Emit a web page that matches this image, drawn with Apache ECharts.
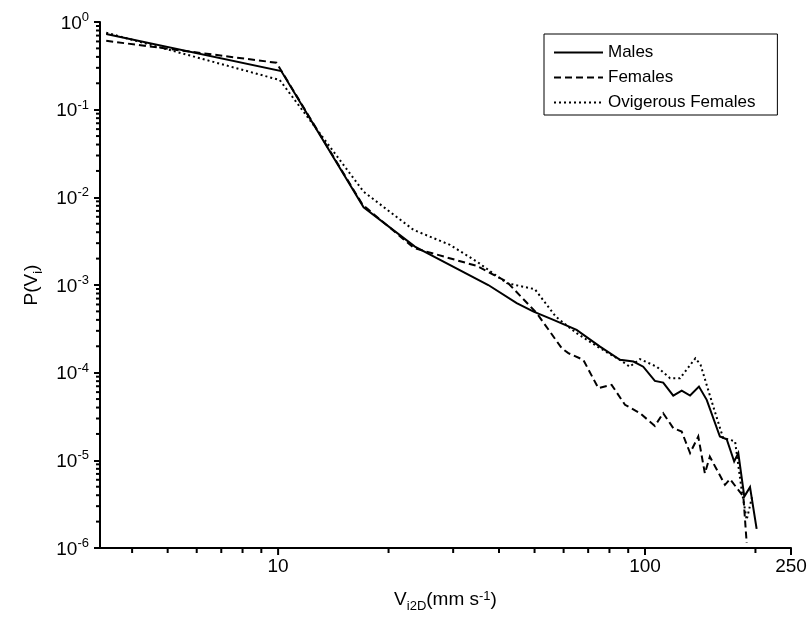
<!DOCTYPE html>
<html><head><meta charset="utf-8">
<script src="https://cdn.jsdelivr.net/npm/echarts@6/dist/echarts.min.js"></script>
<style>html,body{margin:0;padding:0;background:#fff}#c{width:810px;height:628px}</style>
</head><body><div id="c"></div>
<script>
// ---- data ----
const seriesNames = ['Males', 'Females', 'Ovigerous Females'];

const malesX = [3.4, 10.2, 17.1, 23.6, 37.4, 44.7, 49.7, 56.3, 65.1, 75.4, 85.5, 93.0, 98.9, 106.4, 112.1, 119.4, 125.9, 132.7, 140.3, 147.3, 160.0, 167.0, 175.0, 179.6, 186.5, 193.3, 201.5];
const malesY = [0.73, 0.276, 7.7e-3, 2.74e-3, 1.0e-3, 6.2e-4, 4.97e-4, 4.0e-4, 3.08e-4, 1.98e-4, 1.40e-4, 1.34e-4, 1.17e-4, 8.06e-5, 7.7e-5, 5.48e-5, 6.25e-5, 5.48e-5, 6.94e-5, 4.9e-5, 1.87e-5, 1.74e-5, 9.7e-6, 1.21e-5, 3.86e-6, 4.94e-6, 1.65e-6];

const femalesX = [3.4, 9.9, 17.0, 23.5, 34.8, 42.0, 50.7, 59.3, 61.8, 67.9, 74.6, 81.1, 88.2, 96.9, 106.4, 112.1, 119.4, 125.9, 132.7, 139.7, 145.6, 150.2, 165.2, 170.5, 185.4, 189.3];
const femalesY = [0.61, 0.343, 8.2e-3, 2.63e-3, 1.65e-3, 1.09e-3, 4.77e-4, 1.90e-4, 1.67e-4, 1.40e-4, 6.66e-5, 7.26e-5, 4.3e-5, 3.45e-5, 2.47e-5, 3.45e-5, 2.33e-5, 2.13e-5, 1.21e-5, 1.87e-5, 7.1e-6, 1.1e-5, 5.26e-6, 6.1e-6, 3.86e-6, 1.14e-6];

const ovigX = [3.4, 10.1, 17.1, 23.4, 29.4, 34.8, 42.0, 50.1, 57.1, 65.1, 75.4, 85.5, 90.8, 96.9, 107.6, 117.0, 124.6, 137.2, 141.7, 153.5, 163.3, 176.0, 183.4, 189.3, 195.7];
const ovigY = [0.755, 0.218, 1.16e-2, 4.25e-3, 2.87e-3, 1.85e-3, 1.05e-3, 8.95e-4, 4.36e-4, 2.82e-4, 1.90e-4, 1.40e-4, 1.17e-4, 1.43e-4, 1.17e-4, 8.65e-5, 8.65e-5, 1.46e-4, 1.23e-4, 4.1e-5, 1.8e-5, 1.65e-5, 4.6e-6, 2.1e-6, 3.8e-6];

const xTickValues = [10, 100, 250];
const xTickLabels = ['10', '100', '250'];
const yTickExponents = [0, -1, -2, -3, -4, -5, -6];
const xMin = 3.27, xMax = 250, yMin = 1e-6, yMax = 1;

// ---- chart ----
const FONT = 'Liberation Sans, Arial, Helvetica, sans-serif';
const zip = (xs, ys) => xs.map((x, i) => [x, ys[i]]);
const chart = echarts.init(document.getElementById('c'), null, {renderer: 'canvas'});

const lineTypes = ['solid', [7, 4], [2, 3]];
const seriesData = [zip(malesX, malesY), zip(femalesX, femalesY), zip(ovigX, ovigY)];

const titleRich = {
  b: {fontFamily: FONT, fontSize: 19, lineHeight: 19, verticalAlign: 'top', color: '#000'},
  sub: {fontFamily: FONT, fontSize: 13, lineHeight: 13, verticalAlign: 'top', padding: [10, 0, 0, 0], color: '#000'},
  sup: {fontFamily: FONT, fontSize: 13, lineHeight: 13, verticalAlign: 'top', color: '#000'}
};

const option = {
  animation: false,
  backgroundColor: '#fff',
  textStyle: {fontFamily: FONT, color: '#000'},
  grid: {left: 100, right: 19, top: 22, bottom: 80, containLabel: false, outerBoundsMode: 'none'},
  legend: {
    orient: 'vertical', left: 544, top: 34,
    itemWidth: 49, itemHeight: 20, itemGap: 8,
    padding: [10, 22, 4, 9],
    borderColor: '#000', borderWidth: 1,
    itemStyle: {opacity: 0, color: 'transparent', borderWidth: 0},
    textStyle: {fontFamily: FONT, fontSize: 17, color: '#000'},
    data: seriesNames
  },
  xAxis: {
    type: 'log', logBase: 10, min: xMin, max: xMax,
    axisLine: {lineStyle: {color: '#000', width: 2}},
    axisTick: {show: false},
    splitLine: {show: false},
    axisLabel: {
      show: true, showMinLabel: true, showMaxLabel: true, margin: 9,
      fontFamily: FONT, fontSize: 19, color: '#000',
      formatter: function (v) {
        for (let i = 0; i < xTickValues.length; i++) {
          if (Math.abs(v - xTickValues[i]) < 0.5) return xTickLabels[i];
        }
        return '';
      }
    },
    name: '{b|V}{sub|i2D}{b|(mm s}{sup|-1}{b|)}',
    nameLocation: 'middle', nameGap: 42,
    nameTextStyle: {fontFamily: FONT, color: '#000', rich: titleRich}
  },
  yAxis: {
    type: 'log', logBase: 10, min: yMin, max: yMax,
    axisLine: {lineStyle: {color: '#000', width: 2}},
    axisTick: {show: true, inside: false, length: 6, lineStyle: {color: '#000', width: 2}},
    splitLine: {show: false},
    axisLabel: {
      margin: 11, fontFamily: FONT, color: '#000',
      formatter: function (v) {
        const e = Math.round(Math.log10(v));
        if (yTickExponents.indexOf(e) < 0) return '';
        return '{b|10}{s|' + e + '}';
      },
      rich: {
        b: {fontFamily: FONT, fontSize: 19, lineHeight: 22, verticalAlign: 'bottom', color: '#000'},
        s: {fontFamily: FONT, fontSize: 13, lineHeight: 13, verticalAlign: 'top', color: '#000'}
      }
    },
    name: '{b|P(V}{sub|i}{b|)}',
    nameLocation: 'middle', nameGap: 52,
    nameTextStyle: {fontFamily: FONT, color: '#000', rich: titleRich}
  },
  series: seriesNames.map((n, i) => ({
    name: n, type: 'line', symbol: 'none', showSymbol: false,
    data: seriesData[i],
    lineStyle: {color: '#000', width: 2, type: lineTypes[i], cap: 'butt', join: 'miter'},
    itemStyle: {color: '#000'},
    z: 3 - i
  }))
};
chart.setOption(option);

// minor / major tick marks placed through the axes' own scales
function addTicks() {
  const g = [];
  const axisY = chart.convertToPixel({yAxisIndex: 0}, yMin);
  const axisX = chart.convertToPixel({xAxisIndex: 0}, xMin);
  [1, 10, 100].forEach(base => {
    for (let m = 1; m <= 9; m++) {
      const v = m * base;
      if (v <= xMin || v > xMax) continue;
      const major = xTickValues.indexOf(v) >= 0;
      const px = chart.convertToPixel({xAxisIndex: 0}, v);
      g.push({type: 'line', silent: true,
        shape: {x1: px, y1: axisY, x2: px, y2: axisY + (major ? 7 : 5)},
        style: {stroke: '#000', lineWidth: 2}});
    }
  });
  const pxEnd = chart.convertToPixel({xAxisIndex: 0}, xMax);
  g.push({type: 'line', silent: true,
    shape: {x1: pxEnd, y1: axisY, x2: pxEnd, y2: axisY + 7},
    style: {stroke: '#000', lineWidth: 2}});
  for (let d = -6; d <= -1; d++) {
    for (let m = 2; m <= 9; m++) {
      const v = m * Math.pow(10, d);
      const py = chart.convertToPixel({yAxisIndex: 0}, v);
      g.push({type: 'line', silent: true,
        shape: {x1: axisX - 4, y1: py, x2: axisX, y2: py},
        style: {stroke: '#000', lineWidth: 2}});
    }
  }
  chart.setOption({graphic: g});
}
addTicks();
</script>
</body></html>
